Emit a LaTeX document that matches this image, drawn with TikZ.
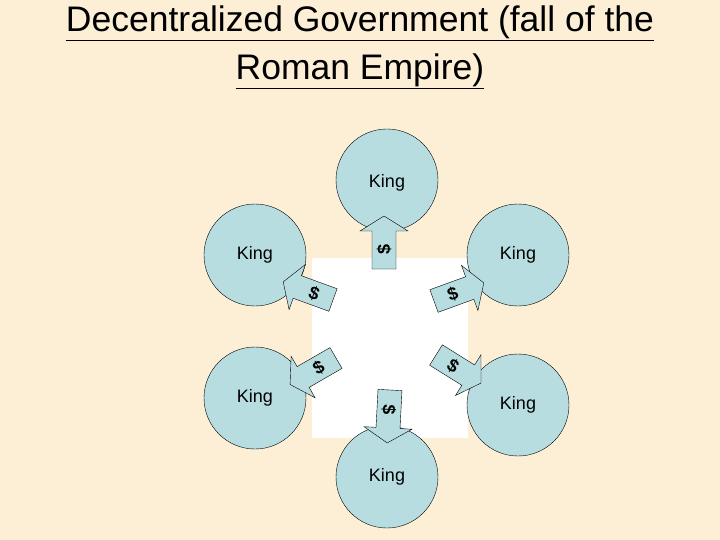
\documentclass[tikz,border=0pt]{standalone}
\usepackage{fontspec}
\setmainfont{Liberation Sans}
\definecolor{bg}{HTML}{FCEFD6}
\definecolor{kb}{HTML}{B8DDE1}
\begin{document}
\begin{tikzpicture}[x=1pt,y=-1pt,
  king/.style={circle,draw=black,fill=kb,minimum size=102pt,inner sep=0pt},
  kl/.style={font=\fontsize{18}{20}\selectfont},
  pics/money/.style={code={
    \draw[fill=kb] (0,-12) -- (38,-12) -- (38,-24) -- (53,0) -- (38,24) -- (38,12) -- (0,12) -- cycle;
    \node[font=\bfseries\fontsize{18}{20}\selectfont,transform shape,rotate=#1] at (20,0) {\$};
  }}]
\fill[bg] (0,0) rectangle (720,540);
\useasboundingbox (0,0) rectangle (720,540);
\node[font=\fontsize{35.5}{48}\selectfont,align=center] (title) at (360,47)
  {\underline{Decentralized Government (fall of the}\\\underline{Roman Empire)}};
\fill[white] (312,258) rectangle (468,438);
\node[king] (k1) at (387,180) {};
\node[king] (k2) at (255,255) {};
\node[king] (k3) at (518,255) {};
\node[king] (k4) at (255,398) {};
\node[king] (k5) at (518,405) {};
\node[king] (k6) at (387,477) {};
\node[kl] at (387,183) {King};
\node[kl] at (255,255) {King};
\node[kl] at (518,255) {King};
\node[kl] at (255,398) {King};
\node[kl] at (518,405) {King};
\node[kl] at (387,477) {King};
\pic[rotate=90] at (384,269) {money=0};
\pic[rotate=160] at (333,300) {money=180};
\pic[rotate=20] at (434,301) {money=0};
\pic[rotate=210] at (336,358) {money=180};
\pic[rotate=-32] at (436,355) {money=0};
\pic[rotate=-93] at (390,390) {money=0};
\end{tikzpicture}
\end{document}
